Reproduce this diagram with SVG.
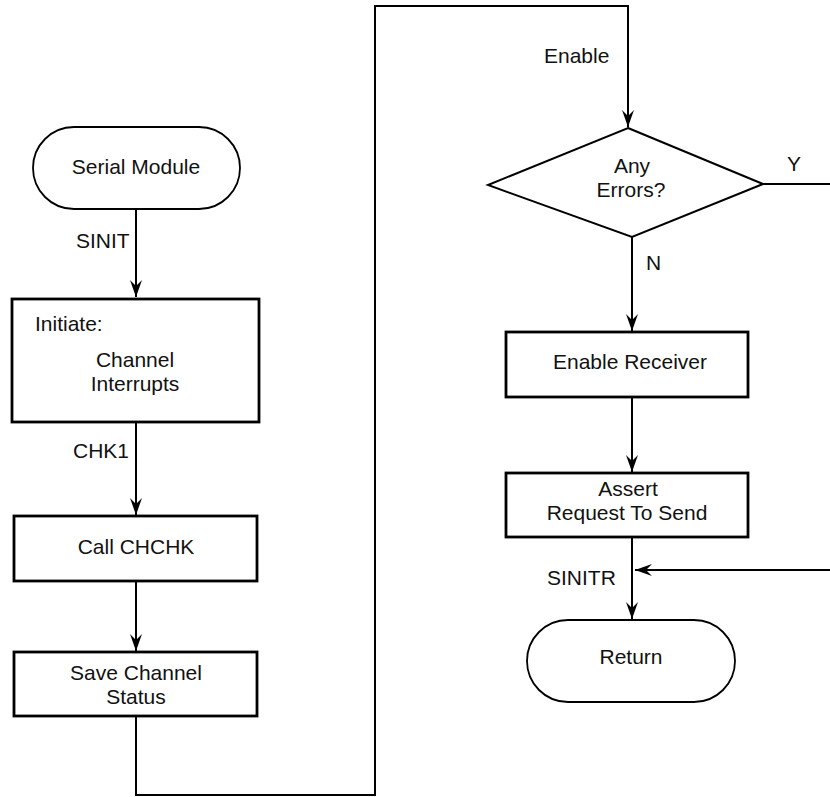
<svg xmlns="http://www.w3.org/2000/svg" width="830" height="797" viewBox="0 0 830 797">
<defs>
<marker id="arr" markerUnits="userSpaceOnUse" markerWidth="18" markerHeight="14" viewBox="0 0 18 14" refX="17" refY="7" orient="auto">
<path d="M0,1 L17,7 L0,13 L6,7 Z" fill="#000"/>
</marker>
<style>
text{font-family:"Liberation Sans",Arial,sans-serif;font-size:21px;fill:#111}
.c{text-anchor:middle}
.box{fill:#fff;stroke:#000;stroke-width:2.8}
.term{fill:#fff;stroke:#000;stroke-width:1.8}
.dia{fill:#fff;stroke:#000;stroke-width:2}
.ln{fill:none;stroke:#000;stroke-width:2}
</style>
</defs>
<rect width="830" height="797" fill="#fff"/>
<g id="connectors">
<path class="ln" d="M136,209 V297" marker-end="url(#arr)"/>
<path class="ln" d="M136,423 V515" marker-end="url(#arr)"/>
<path class="ln" d="M136,581 V651" marker-end="url(#arr)"/>
<path class="ln" d="M136,716 V795 H375 V6 H628 V127" marker-end="url(#arr)"/>
<path class="ln" d="M763,184 H830"/>
<path class="ln" d="M632,237 V331" marker-end="url(#arr)"/>
<path class="ln" d="M632,397 V472" marker-end="url(#arr)"/>
<path class="ln" d="M632,537 V619" marker-end="url(#arr)"/>
<path class="ln" d="M830,570 H635" marker-end="url(#arr)"/>
<text x="76" y="248">SINIT</text>
<text x="73" y="458">CHK1</text>
<text x="544" y="63">Enable</text>
<text x="787" y="171">Y</text>
<text x="646" y="270">N</text>
<text x="547" y="585">SINITR</text>
</g>
<g id="serial-module">
<rect class="term" x="33" y="127" width="207" height="82" rx="41" ry="41"/>
<text class="c" x="136" y="174">Serial Module</text>
</g>
<g id="initiate">
<rect class="box" x="12" y="299" width="247" height="123"/>
<text x="35" y="331">Initiate:</text>
<text class="c" x="135" y="367">Channel</text>
<text class="c" x="135" y="391">Interrupts</text>
</g>
<g id="call-chchk">
<rect class="box" x="14" y="516" width="243" height="65"/>
<text class="c" x="136" y="554">Call CHCHK</text>
</g>
<g id="save-status">
<rect class="box" x="14" y="652" width="243" height="64"/>
<text class="c" x="136" y="680">Save Channel</text>
<text class="c" x="136" y="704">Status</text>
</g>
<g id="any-errors">
<polygon class="dia" points="628,128 763,184 632,237 488,185"/>
<text class="c" x="632" y="173">Any</text>
<text class="c" x="631" y="197">Errors?</text>
</g>
<g id="enable-receiver">
<rect class="box" x="506" y="332" width="242" height="65"/>
<text class="c" x="630" y="369">Enable Receiver</text>
</g>
<g id="assert-rts">
<rect class="box" x="506" y="473" width="242" height="64"/>
<text class="c" x="628" y="496">Assert</text>
<text class="c" x="627" y="520">Request To Send</text>
</g>
<g id="return">
<rect class="term" x="527" y="620" width="208" height="82" rx="41" ry="41"/>
<text class="c" x="631" y="664">Return</text>
</g>
</svg>
